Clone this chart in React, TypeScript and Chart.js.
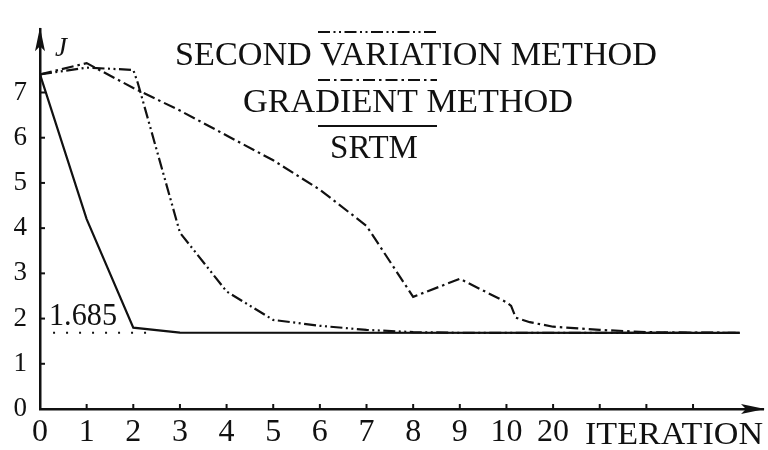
import React, { useEffect, useRef } from 'react';
import { Chart, registerables } from 'chart.js';

Chart.register(...registerables);

// ---- data ----
const xTickValues = [0, 1, 2, 3, 4, 5, 6, 7, 8, 9, 10, 11, 12, 13, 14];
const xTickLabels = ['0', '1', '2', '3', '4', '5', '6', '7', '8', '9', '10', '20', '', '', ''];
const yTickValues = [0, 1, 2, 3, 4, 5, 6, 7];
const xAxisTitle = 'ITERATION';
const yAxisTitle = 'J';

const srtmX = [0, 1, 2, 3, 15];
const srtmY = [7.4, 4.2, 1.8, 1.69, 1.685];

const secondVarX = [0, 1, 2, 2.1, 3, 4, 5, 6, 7, 8, 9, 15];
const secondVarY = [7.4, 7.55, 7.5, 7.2, 3.9, 2.6, 1.97, 1.84, 1.75, 1.7, 1.685, 1.685];

const gradientX = [0, 1, 2, 3, 4, 5, 6, 7, 8, 9, 10, 10.1, 10.2, 10.5, 11, 12, 13, 14, 15];
const gradientY = [7.4, 7.65, 7.1, 6.6, 6.05, 5.5, 4.85, 4.05, 2.48, 2.88, 2.36, 2.28, 2.02, 1.92, 1.82, 1.75, 1.7, 1.69, 1.685];

const optimumX = [0.28, 2.3];
const optimumY = [1.685, 1.685];
const optimumLabel = '1.685';

const legendLabels = ['SECOND VARIATION METHOD', 'GRADIENT METHOD', 'SRTM'];

// ---- styles ----
const INK = '#111111';
const SERIF = "'Liberation Serif', 'DejaVu Serif', serif";
const DASH_DOT_DOT = [12, 3.5, 2, 3.5, 2, 3.5];
const DASH_DOT = [12, 4, 2.5, 4];

const toPts = (xs: number[], ys: number[]) => xs.map((x, i) => ({ x, y: ys[i] }));

function fitText(ctx: CanvasRenderingContext2D, text: string, x: number, base: number, width: number) {
  const m = ctx.measureText(text).width;
  ctx.save();
  ctx.translate(x, base);
  ctx.scale(width / m, 1);
  ctx.textAlign = 'left';
  ctx.textBaseline = 'alphabetic';
  ctx.fillText(text, 0, 0);
  ctx.restore();
}

const decorPlugin = {
  id: 'decor',
  afterDraw(chart: any) {
    const ctx: CanvasRenderingContext2D = chart.ctx;
    const { left, right, top, bottom } = chart.chartArea;
    const xs = chart.scales.x;
    const ys = chart.scales.y;
    ctx.save();
    ctx.fillStyle = INK;
    ctx.strokeStyle = INK;

    // arrow heads
    ctx.beginPath();
    ctx.moveTo(left, top - 2);
    ctx.lineTo(left - 5, top + 22);
    ctx.lineTo(left, top + 17);
    ctx.lineTo(left + 5, top + 22);
    ctx.closePath();
    ctx.fill();

    ctx.beginPath();
    ctx.moveTo(right + 2, bottom);
    ctx.lineTo(right - 22, bottom - 5);
    ctx.lineTo(right - 17, bottom);
    ctx.lineTo(right - 22, bottom + 5);
    ctx.closePath();
    ctx.fill();

    // inward tick marks
    ctx.lineWidth = 2;
    ctx.setLineDash([]);
    xTickValues.forEach((v) => {
      if (v === 0) return;
      const px = xs.getPixelForValue(v);
      ctx.beginPath();
      ctx.moveTo(px, bottom);
      ctx.lineTo(px, bottom - 5);
      ctx.stroke();
    });
    yTickValues.forEach((v) => {
      if (v === 0) return;
      const py = ys.getPixelForValue(v);
      ctx.beginPath();
      ctx.moveTo(left, py);
      ctx.lineTo(left + 5, py);
      ctx.stroke();
    });

    // axis titles
    ctx.font = `32px ${SERIF}`;
    fitText(ctx, xAxisTitle, 585, bottom + 35, 178);

    ctx.font = `italic 27px ${SERIF}`;
    ctx.textAlign = 'left';
    ctx.textBaseline = 'alphabetic';
    ctx.fillText(yAxisTitle, left + 15, top + 27);

    // optimum label
    ctx.font = `31px ${SERIF}`;
    fitText(ctx, optimumLabel, 49, ys.getPixelForValue(optimumY[0]) - 8, 68);

    // legend
    const sampleX0 = 318;
    const sampleX1 = 437;
    ctx.font = `33px ${SERIF}`;
    const rows = [
      { text: legendLabels[0], x: 175, w: 482, base: 65, lineY: 32, dash: DASH_DOT_DOT },
      { text: legendLabels[1], x: 243, w: 330, base: 112, lineY: 80, dash: DASH_DOT },
      { text: legendLabels[2], x: 330, w: 88, base: 158, lineY: 126, dash: [] as number[] },
    ];
    rows.forEach((r) => {
      fitText(ctx, r.text, r.x, r.base, r.w);
      ctx.setLineDash(r.dash);
      ctx.lineWidth = 2.2;
      ctx.beginPath();
      ctx.moveTo(sampleX0, r.lineY);
      ctx.lineTo(sampleX1, r.lineY);
      ctx.stroke();
    });
    ctx.restore();
  },
};

export default function App() {
  const canvasRef = useRef<HTMLCanvasElement | null>(null);

  useEffect(() => {
    if (!canvasRef.current) return;
    const chart = new Chart(canvasRef.current, {
      type: 'line',
      data: {
        datasets: [
          {
            label: legendLabels[2],
            data: toPts(srtmX, srtmY),
            borderColor: INK,
            borderWidth: 2.2,
            pointRadius: 0,
            tension: 0,
          },
          {
            label: legendLabels[0],
            data: toPts(secondVarX, secondVarY),
            borderColor: INK,
            borderWidth: 2.2,
            borderDash: DASH_DOT_DOT,
            pointRadius: 0,
            tension: 0,
          },
          {
            label: legendLabels[1],
            data: toPts(gradientX, gradientY),
            borderColor: INK,
            borderWidth: 2.2,
            borderDash: DASH_DOT,
            pointRadius: 0,
            tension: 0,
          },
          {
            label: 'optimum',
            data: toPts(optimumX, optimumY),
            borderColor: INK,
            borderWidth: 2,
            borderDash: [2, 11],
            pointRadius: 0,
            tension: 0,
          },
        ],
      },
      options: {
        animation: false,
        responsive: false,
        maintainAspectRatio: false,
        layout: { padding: { top: 10, right: 5, left: 0, bottom: 0 } },
        plugins: {
          legend: { display: false },
          tooltip: { enabled: false },
        },
        scales: {
          x: {
            type: 'linear',
            min: 0,
            max: 15.5,
            grid: { display: false, drawTicks: false },
            border: { display: true, color: INK, width: 2.5 },
            afterBuildTicks: (axis: any) => {
              axis.ticks = xTickValues.map((v) => ({ value: v }));
            },
            afterFit: (axis: any) => {
              axis.height = 41;
            },
            ticks: {
              autoSkip: false,
              maxRotation: 0,
              padding: 4,
              color: INK,
              font: { family: SERIF, size: 32 },
              callback: (v: any) => {
                const i = xTickValues.indexOf(Number(v));
                return i >= 0 ? xTickLabels[i] : '';
              },
            },
          },
          y: {
            type: 'linear',
            min: 0,
            max: 8.4,
            grid: { display: false, drawTicks: false },
            border: { display: true, color: INK, width: 2.5 },
            afterBuildTicks: (axis: any) => {
              axis.ticks = yTickValues.map((v) => ({ value: v }));
            },
            afterFit: (axis: any) => {
              axis.width = 40;
            },
            ticks: {
              autoSkip: false,
              padding: 13,
              color: INK,
              font: { family: SERIF, size: 27 },
              callback: (v: any) => String(v),
            },
          },
        },
      },
      plugins: [decorPlugin],
    } as any);
    return () => chart.destroy();
  }, []);

  return (
    <div style={{ position: 'fixed', left: 0, top: 0, width: 768, height: 450, background: '#fff' }}>
      <canvas ref={canvasRef} width={768} height={450} style={{ width: 768, height: 450, display: 'block' }} />
    </div>
  );
}
